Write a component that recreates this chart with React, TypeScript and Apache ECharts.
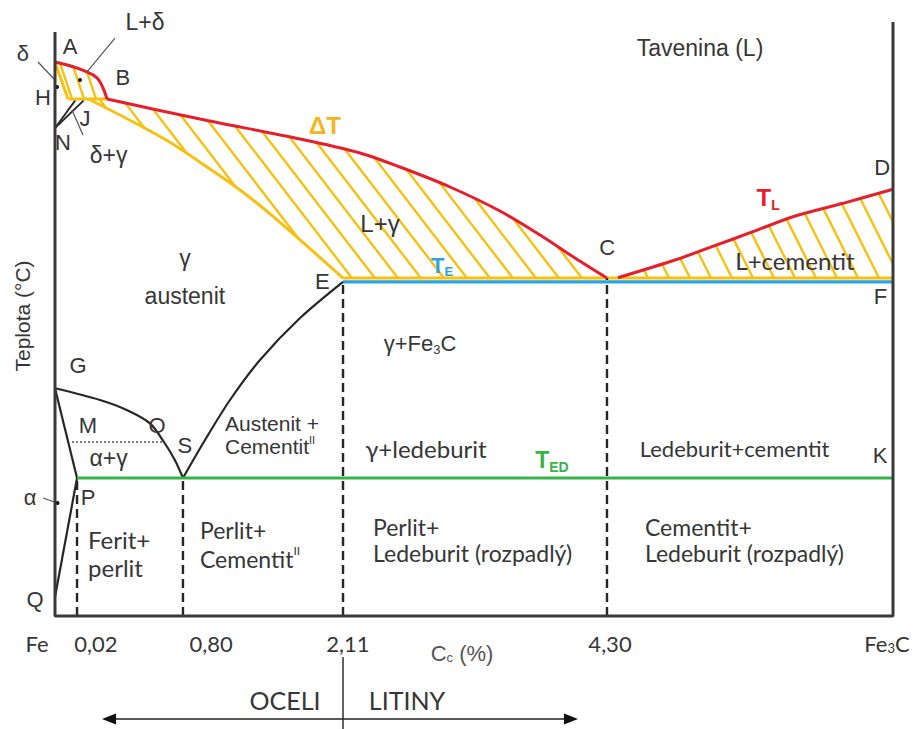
import React, { useEffect, useRef } from "react";
import * as echarts from "echarts";

// Schematic diagram coordinates: X = composition position (Fe = 0 … Fe3C = 100),
// Y = schematic temperature (0 = room-temperature line, 100 = top of diagram).
const liquidusAB = [[0, 92.33], [1.79, 91.7], [3.58, 90.8], [5.01, 89.7], [5.73, 88.0], [6.21, 86.17]];
const liquidusBC = [[6.21, 86.17], [17.3, 82.83], [29.24, 79.5], [36.4, 77.17], [41.17, 74.83], [47.14, 71.5], [53.1, 67.5], [57.88, 63.5], [62.05, 59.67], [65.87, 56.33]];
const liquidusCD = [[67.18, 56.38], [73.99, 59.33], [78.4, 61.55], [83.29, 64.05], [88.07, 66.55], [94.03, 68.78], [100, 71.12]];
const solidusAH = [[0, 92.33], [1.55, 86.17]];
const peritecticHJB = [[1.55, 86.17], [6.21, 86.17]];
const solidusJE = [[4.0, 86.17], [12.92, 79.62], [18.1, 74.88], [22.08, 71.0], [26.05, 66.55], [34.37, 56.33]];
const lineNH = [[0, 81.33], [2.4, 85.9]];
const lineNJ = [[0, 81.33], [3.4, 85.9]];
const eutecticECF = [[34.37, 56.33], [100, 56.33]];
const eutecticTE = [[34.37, 55.7], [100, 55.7]];
const lineES = [[15.27, 23.0], [17.9, 29.33], [20.88, 36.0], [24.46, 42.67], [29.24, 49.67], [34.37, 55.7]];
const lineGS = [[0, 37.95], [5.37, 36.0], [8.56, 34.33], [11.34, 32.1], [13.0, 29.0], [14.3, 26.0], [15.27, 23.0]];
const lineGP = [[0, 37.95], [2.63, 23.0]];
const linePQ = [[2.63, 23.0], [0, 3.17]];
const curieMO = [[2.03, 29.0], [12.9, 29.0]];
const eutectoidPSK = [[2.63, 23.0], [100, 23.0]];
const dashedX = [2.63, 15.27, 34.37, 65.87];
const dashedTop = [23.0, 23.0, 55.7, 56.33];
const frame = [[0, 97.33], [0, 0], [100, 0], [100, 99]];
const tickLabels = ["Fe", "0,02", "0,80", "2,11", "4,30", "Fe{s|3}C"];
const tickPos = [-2.15, 4.89, 18.62, 34.96, 66.23, 99.28];

// two-phase (hatched) regions built from the curves above
const regionLdelta = [...liquidusAB, [1.55, 86.17]];
const regionLgamma = [...liquidusBC, ...[...solidusJE].reverse()];
const regionLcem = [...liquidusCD, [100, 56.33], [65.87, 56.33]];

// annotation geometry
const pointers = [
  [[-2.03, 92.33], [0, 89.33]],
  [[7.16, 96.33], [3.82, 90.67]],
  [[3.34, 80.17], [2.03, 84.33]],
  [[-1.43, 19.67], [0.24, 18.83]],
];
const dots = [[0.24, 88.17], [2.98, 89.33], [0.3, 18.83]];
const arrowSpan = [[5.61, -17.17], [62.41, -17.17]];
const divider = [[34.37, -6.83], [34.37, -18.83]];

const TXT = "#363636";
const RED = "#e4202c";
const YEL = "#f7c112";
const BLUE = "#2aa3de";
const GREEN = "#38b349";
const DARK = "#262626";
const AR = "'Liberation Sans', Arial, sans-serif";
const CB = "Lato, 'Open Sans', sans-serif";

type Lbl = { t: string; x: number; y: number; f?: string; s?: number; c?: string; al?: string; b?: boolean; lh?: number };
const labels: Lbl[] = [
  { t: "A", x: 1.79, y: 94.9 },
  { t: "L+δ", x: 10.74, y: 99.0, s: 23 },
  { t: "δ", x: -3.82, y: 93.83 },
  { t: "B", x: 8.11, y: 89.83 },
  { t: "H", x: -1.43, y: 86.5 },
  { t: "J", x: 3.58, y: 83.0 },
  { t: "N", x: 0.95, y: 79.0 },
  { t: "δ+γ", x: 6.4, y: 76.8, s: 23 },
  { t: "Tavenina (L)", x: 76.97, y: 94.67, s: 23 },
  { t: "ΔT", x: 32.2, y: 81.8, c: "#f4b41a", b: true, s: 24 },
  { t: "D", x: 98.7, y: 74.8 },
  { t: "T{s|L}", x: 85.1, y: 69.7, c: RED, b: true, s: 24 },
  { t: "L+γ", x: 38.78, y: 65.5, s: 24 },
  { t: "T{s|E}", x: 46.2, y: 58.5, c: BLUE, b: true, s: 22 },
  { t: "C", x: 65.9, y: 61.5 },
  { t: "L+cementit", x: 88.3, y: 59.3, f: CB, s: 24 },
  { t: "γ", x: 15.5, y: 59.7, s: 23 },
  { t: "austenit", x: 15.5, y: 53.3, s: 23 },
  { t: "E", x: 31.9, y: 55.7 },
  { t: "F", x: 98.5, y: 53.2 },
  { t: "γ+Fe{s|3}C", x: 43.56, y: 45.5, s: 22 },
  { t: "G", x: 2.74, y: 41.67 },
  { t: "M", x: 3.94, y: 31.8 },
  { t: "O", x: 12.17, y: 31.8 },
  { t: "α+γ", x: 6.4, y: 26.3, s: 23 },
  { t: "S", x: 15.5, y: 28.5 },
  { t: "Austenit +\nCementit{u|II}", x: 20.29, y: 30.17, s: 21, al: "left", lh: 23 },
  { t: "γ+ledeburit", x: 44.27, y: 28.0, f: CB, s: 24 },
  { t: "T{s|ED}", x: 59.3, y: 26.0, c: GREEN, b: true, s: 23 },
  { t: "Ledeburit+cementit", x: 81.1, y: 28.0, f: CB, s: 22 },
  { t: "K", x: 98.45, y: 26.8 },
  { t: "α", x: -2.98, y: 19.83 },
  { t: "P", x: 3.94, y: 19.83 },
  { t: "Ferit+\nperlit", x: 3.94, y: 10.5, f: CB, al: "left", s: 24, lh: 28 },
  { t: "Perlit+\nCementit{u|II}", x: 17.3, y: 11.92, f: CB, al: "left", s: 23, lh: 29 },
  { t: "Perlit+\nLedeburit (rozpadlý)", x: 37.95, y: 12.75, f: CB, al: "left", s: 23, lh: 26 },
  { t: "Cementit+\nLedeburit (rozpadlý)", x: 70.4, y: 12.75, f: CB, al: "left", s: 23, lh: 26 },
  { t: "Q", x: -2.39, y: 2.67 },
  { t: "OCELI", x: 27.45, y: -14.0, f: CB, s: 25 },
  { t: "LITINY", x: 42.0, y: -14.0, f: CB, s: 25 },
];

function hatchSegments(poly: number[][], k: number, step: number, phase: number) {
  const cs = poly.map((p) => p[0] - p[1] / k);
  const cmin = Math.min(...cs);
  const cmax = Math.max(...cs);
  const segs: number[][] = [];
  for (let c = Math.ceil((cmin - phase) / step) * step + phase; c <= cmax; c += step) {
    const ys: number[] = [];
    for (let i = 0; i < poly.length; i++) {
      const a = poly[i];
      const b = poly[(i + 1) % poly.length];
      const fa = a[0] - a[1] / k - c;
      const fb = b[0] - b[1] / k - c;
      if (fa < 0 !== fb < 0) {
        const t = fa / (fa - fb);
        ys.push(a[1] + t * (b[1] - a[1]));
      }
    }
    ys.sort((m, n) => m - n);
    for (let j = 0; j + 1 < ys.length; j += 2) {
      segs.push([c + ys[j] / k, ys[j], c + ys[j + 1] / k, ys[j + 1]]);
    }
  }
  return segs;
}

const hatch = (poly: number[][], k: number, step: number, phase: number) => ({
  type: "custom",
  coordinateSystem: "cartesian2d",
  clip: false,
  silent: true,
  z: 1,
  data: [[poly[0][0], poly[0][1]]],
  renderItem: (_p: any, api: any) => {
    const pts = poly.map((p) => api.coord(p));
    const segs = hatchSegments(pts, k, step, phase);
    return {
      type: "group",
      children: segs.map((s) => ({
        type: "line",
        shape: { x1: s[0], y1: s[1], x2: s[2], y2: s[3] },
        style: { stroke: YEL, lineWidth: 2.4 },
      })),
    };
  },
});

const ln = (data: number[][], color: string, width: number, z = 3, smooth: number | boolean = false, type: any = "solid") => ({
  type: "line",
  data,
  showSymbol: false,
  symbol: "none",
  clip: false,
  silent: true,
  smooth,
  z,
  lineStyle: { color, width, type, cap: "butt" },
});

export default function App() {
  const ref = useRef<HTMLDivElement>(null);
  useEffect(() => {
    if (!ref.current) return;
    const chart = echarts.init(ref.current, undefined, { renderer: "svg" });
    const richSmall = (size: number, color: string, bold: boolean, fam: string) => ({
      s: { fontSize: Math.round(size * 0.6), fontFamily: fam, fontWeight: bold ? "bold" : "normal", fill: color, color, verticalAlign: "bottom", lineHeight: Math.round(size * 0.72) },
      u: { fontSize: Math.round(size * 0.5), fontFamily: fam, fontWeight: "normal", fill: color, color, verticalAlign: "top", lineHeight: Math.round(size * 0.7) },
    });
    const series: any[] = [
      hatch(regionLdelta, 3, 12, 3),
      hatch(regionLgamma, 1.3, 23, 0),
      hatch(regionLcem, 2.0, 21, 5),
      ln(solidusAH, YEL, 3, 2),
      ln(peritecticHJB, YEL, 3, 2),
      ln(solidusJE, YEL, 3, 2, 0.3),
      ln(eutecticECF, YEL, 3.2, 2),
      ln(eutecticTE, BLUE, 3.2, 3),
      ln(liquidusAB, RED, 3, 3, 0.4),
      ln(liquidusBC, RED, 3, 3, 0.3),
      ln(liquidusCD, RED, 3, 3, 0.3),
      ln(lineNH, DARK, 1.8, 3),
      ln(lineNJ, DARK, 1.8, 3),
      ln(lineES, DARK, 2.2, 3, 0.3),
      ln(lineGS, DARK, 2.2, 3, 0.3),
      ln(lineGP, DARK, 2.2, 3),
      ln(linePQ, DARK, 2.2, 3),
      ln(curieMO, "#555555", 1.5, 3, false, [2, 2]),
      ln(eutectoidPSK, GREEN, 3, 3),
      ...dashedX.map((x, i) => ln([[x, 0], [x, dashedTop[i]]], DARK, 2.4, 2, false, [9, 5])),
      ln(frame, "#3a3a3a", 3, 4),
      {
        type: "custom",
        coordinateSystem: "cartesian2d",
        clip: false,
        silent: true,
        z: 4,
        data: [[0, 0]],
        renderItem: (_p: any, api: any) => {
          const children: any[] = [];
          pointers.forEach((pr) => {
            const a = api.coord(pr[0]);
            const b = api.coord(pr[1]);
            children.push({ type: "line", shape: { x1: a[0], y1: a[1], x2: b[0], y2: b[1] }, style: { stroke: "#555", lineWidth: 1.2 } });
          });
          dots.forEach((d) => {
            const c = api.coord(d);
            children.push({ type: "circle", shape: { cx: c[0], cy: c[1], r: 2 }, style: { fill: "#111" } });
          });
          const l = api.coord(arrowSpan[0]);
          const r = api.coord(arrowSpan[1]);
          children.push({ type: "line", shape: { x1: l[0] + 8, y1: l[1], x2: r[0] - 8, y2: r[1] }, style: { stroke: "#222", lineWidth: 1.6 } });
          children.push({ type: "polygon", shape: { points: [[l[0], l[1]], [l[0] + 14, l[1] - 5.5], [l[0] + 14, l[1] + 5.5]] }, style: { fill: "#111" } });
          children.push({ type: "polygon", shape: { points: [[r[0], r[1]], [r[0] - 14, r[1] - 5.5], [r[0] - 14, r[1] + 5.5]] }, style: { fill: "#111" } });
          const d0 = api.coord(divider[0]);
          const d1 = api.coord(divider[1]);
          children.push({ type: "line", shape: { x1: d0[0], y1: d0[1], x2: d1[0], y2: d1[1] }, style: { stroke: "#222", lineWidth: 1.4 } });
          return { type: "group", children };
        },
      },
      {
        type: "custom",
        coordinateSystem: "cartesian2d",
        clip: false,
        silent: true,
        z: 6,
        encode: { x: 0, y: 1 },
        data: labels.map((l, i) => [l.x, l.y, i]),
        renderItem: (_p: any, api: any) => {
          const l = labels[api.value(2)];
          const p = api.coord([api.value(0), api.value(1)]);
          const size = l.s ?? 22;
          const fam = l.f ?? AR;
          const color = l.c ?? TXT;
          return {
            type: "text",
            x: p[0],
            y: p[1],
            style: {
              text: l.t,
              fill: color,
              fontSize: size,
              fontFamily: fam,
              fontWeight: l.b ? "bold" : "normal",
              lineHeight: l.lh ?? Math.round(size * 1.2),
              align: l.al ?? "center",
              verticalAlign: "middle",
              rich: richSmall(size, color, !!l.b, fam),
            },
          };
        },
      },
    ];
    chart.setOption({
      animation: false,
      backgroundColor: "#ffffff",
      grid: { left: 13.1, right: 22, top: 16, bottom: 113, containLabel: false, outerBoundsMode: "none" },
      xAxis: {
        type: "value",
        min: -5,
        max: 100,
        axisLine: { show: false },
        axisTick: { show: false },
        splitLine: { show: false },
        axisLabel: {
          customValues: tickPos,
          margin: 16,
          fontSize: 22,
          fontFamily: CB,
          color: TXT,
          formatter: (v: number) => {
            let best = 0;
            tickPos.forEach((t, i) => {
              if (Math.abs(t - v) < Math.abs(tickPos[best] - v)) best = i;
            });
            return tickLabels[best];
          },
          rich: {
            s: { fontSize: 13, fontFamily: CB, color: TXT, verticalAlign: "bottom", lineHeight: 14 },
          },
        },
        name: "C{s|c} (%)",
        nameLocation: "middle",
        nameGap: 26,
        nameMoveOverlap: false,
        nameTextStyle: {
          fontSize: 22,
          fontFamily: AR,
          color: "#555",
          padding: [0, 0, 0, 18],
          rich: { s: { fontSize: 13, fontFamily: AR, color: "#555", verticalAlign: "bottom", lineHeight: 14 } },
        },
      },
      yAxis: {
        type: "value",
        min: 0,
        max: 100,
        offset: -42,
        axisLine: { show: false },
        axisTick: { show: false },
        axisLabel: { show: false },
        splitLine: { show: false },
        name: "Teplota (°C)",
        nameLocation: "middle",
        nameRotate: 90,
        nameGap: 22,
        nameMoveOverlap: false,
        nameTextStyle: { fontSize: 21, fontFamily: AR, color: TXT },
      },
      series,
    });
    return () => chart.dispose();
  }, []);
  return <div ref={ref} style={{ position: "fixed", left: 0, top: 0, width: 915, height: 729, background: "#fff" }} />;
}
